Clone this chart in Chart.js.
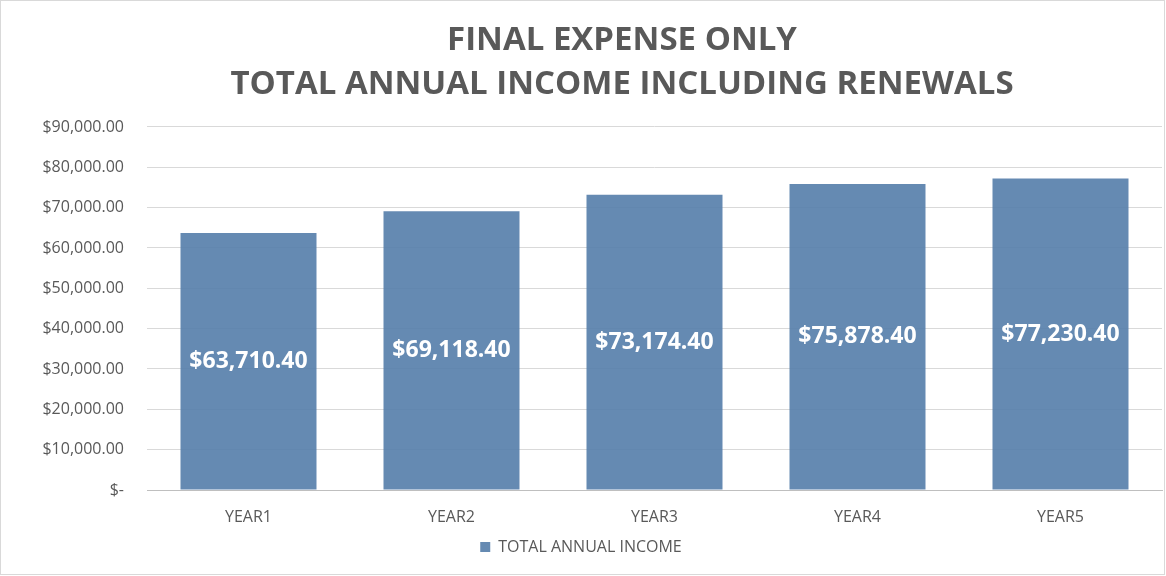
<!DOCTYPE html>
<html>
<head>
<meta charset="utf-8">
<script src="https://cdn.jsdelivr.net/npm/chart.js@4"></script>
<style>
  body { margin: 0; background: #fff; }
  #wrap { width: 1166px; height: 576px; }
</style>
</head>
<body>
<div id="wrap"><canvas id="chartcanvas" width="1166" height="576"></canvas></div>
<script>
// chart values
var years = ["YEAR1", "YEAR2", "YEAR3", "YEAR4", "YEAR5"];
var income = [63710.40, 69118.40, 73174.40, 75878.40, 77230.40];
var title_lines = ["FINAL EXPENSE ONLY", "TOTAL ANNUAL INCOME INCLUDING RENEWALS"];
var series_name = "TOTAL ANNUAL INCOME";

var grey = "#595959";

//money format like the excel labels
function money(v) {
	if (v === 0) return "$-";
	return "$" + v.toLocaleString("en-US", { minimumFractionDigits: 2, maximumFractionDigits: 2 });
}

//white value labels in the middle of every bar
var bar_labels = {
	id: "bar_labels",
	afterDatasetsDraw: function(chart) {
		var ctx = chart.ctx;
		var meta = chart.getDatasetMeta(0);
		ctx.save();
		ctx.fillStyle = "#ffffff";
		ctx.font = "bold 23px 'Open Sans'";
		ctx.textAlign = "center";
		ctx.textBaseline = "middle";
		meta.data.forEach(function(bar, i) {
			var mid = (bar.y + bar.base) / 2;
			ctx.fillText(money(income[i]), bar.x, mid);
		});
		ctx.restore();
	}
};

//excel centres the title over the plot, so push it right a bit
var title_shift = {
	id: "title_shift",
	afterLayout: function(chart) {
		if (chart.titleBlock) chart.titleBlock.left += 82;
	}
};

//thin frame round the whole chart
var frame = {
	id: "frame",
	afterDraw: function(chart) {
		var ctx = chart.ctx;
		ctx.save();
		ctx.strokeStyle = "#d9d9d9";
		ctx.lineWidth = 1;
		ctx.strokeRect(0.5, 0.5, 1164, 574);
		ctx.restore();
	}
};

var ctx = document.getElementById("chartcanvas");
var chart = new Chart(ctx, {
	type: "bar",
	data: {
		labels: years,
		datasets: [{
			label: series_name,
			data: income,
			backgroundColor: "rgba(84,125,170,0.9)",
			borderWidth: 0,
			barPercentage: 0.67,
			categoryPercentage: 1.0
		}]
	},
	options: {
		responsive: false,
		animation: false,
		layout: { padding: { left: 0, right: 4, top: 19, bottom: 11 } },
		plugins: {
			title: {
				display: true,
				text: title_lines,
				color: grey,
				font: { family: "'Open Sans'", size: 33, weight: "bold", lineHeight: 1.333 },
				padding: { top: 0, bottom: 20 }
			},
			legend: {
				display: true,
				position: "bottom",
				labels: {
					color: grey,
					boxWidth: 10,
					boxHeight: 10,
					font: { family: "'Open Sans'", size: 16 },
					padding: 4
				}
			},
			tooltip: { enabled: false }
		},
		scales: {
			x: {
				afterFit: function(scale) { scale.height = 45; },
				grid: { display: false },
				border: { display: true, color: "#bfbfbf", width: 1 },
				ticks: { color: grey, font: { family: "'Open Sans'", size: 16 }, padding: 10 }
			},
			y: {
				min: 0,
				max: 90000,
				afterFit: function(scale) { scale.width = 147; },
				grid: { color: "#d9d9d9", drawTicks: false },
				border: { display: false },
				ticks: {
					stepSize: 10000,
					color: grey,
					padding: 23,
					font: { family: "'Open Sans'", size: 16 },
					callback: function(v) { return money(v); }
				}
			}
		}
	},
	plugins: [bar_labels, title_shift, frame]
});
</script>
</body>
</html>
